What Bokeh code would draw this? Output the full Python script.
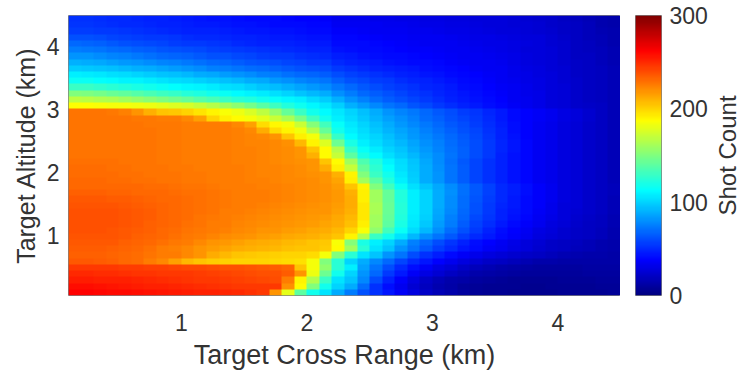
import numpy as np
from bokeh.embed import file_html
from bokeh.layouts import row
from bokeh.models import FixedTicker, LinearColorMapper, Range1d
from bokeh.plotting import figure
from bokeh.resources import INLINE

x_ticks = [1, 2, 3, 4]
y_ticks = [1, 2, 3, 4]
bar_ticks = [0, 100, 200, 300]
x_label = "Target Cross Range (km)"
y_label = "Target Altitude (km)"
bar_label = "Shot Count"

# Shot counts, top row (altitude 4.5 km) first, left column (0.1 km) first
r01 = [52,52,51,50,50,49,48,47,46,45,44,43,43,42,41,41,40,39,38,38,37,33,33,33,32,32,31,31,30,30,29,29,28,27,27,26,25,24,23,21,19,17,15,13]
r02 = [53,53,52,51,50,50,49,48,47,46,45,45,44,43,43,42,41,41,40,39,39,35,35,34,34,33,33,32,31,31,30,30,29,28,27,26,26,25,23,22,20,18,15,14]
r03 = [56,56,55,54,53,52,51,50,49,48,47,47,46,45,44,44,43,43,42,41,41,37,37,36,35,35,34,33,33,32,31,31,30,29,28,27,26,25,24,22,20,18,16,15]
r04 = [62,61,60,58,57,56,55,54,53,51,50,50,49,48,47,46,45,45,44,43,43,39,39,38,37,36,36,35,34,34,33,32,31,31,30,29,28,27,25,23,21,18,17,15]
r05 = [68,67,66,64,62,60,59,58,56,55,54,53,52,50,49,48,47,47,46,45,45,41,40,40,39,38,37,36,35,35,34,33,32,31,31,30,29,27,25,24,21,19,17,15]
r06 = [74,73,72,70,68,66,65,63,62,60,59,57,56,55,53,52,51,50,49,48,47,43,42,41,40,39,38,37,37,36,35,34,33,32,31,30,28,27,26,24,21,19,18,16]
r07 = [82,81,79,77,75,73,71,69,67,66,64,62,61,59,58,56,55,54,52,51,50,46,45,43,42,41,40,39,38,37,36,35,34,33,32,31,29,28,26,24,21,20,18,16]
r08 = [90,89,87,85,83,81,79,77,75,73,71,69,67,65,63,62,60,58,57,55,54,50,48,46,45,43,42,41,40,39,37,36,35,34,33,31,29,28,26,24,22,20,18,16]
r09 = [98,97,96,94,92,90,88,86,84,81,79,76,74,72,70,68,66,64,62,60,59,54,52,50,48,46,45,44,42,41,39,38,36,35,34,32,30,29,26,25,22,20,19,17]
r10 = [108,107,106,104,102,100,98,96,94,92,89,87,84,82,79,76,74,71,69,67,65,60,57,54,52,50,48,46,44,43,41,39,38,36,34,32,31,29,27,25,22,21,19,17]
r11 = [116,115,113,112,110,109,107,105,103,101,99,97,94,92,89,87,83,80,77,74,72,66,62,59,56,54,51,49,47,45,43,41,39,37,35,33,31,30,27,25,23,21,19,17]
r12 = [130,129,127,125,122,120,118,116,113,111,109,107,104,102,99,96,93,90,86,83,79,73,68,64,60,57,54,52,49,47,45,42,40,38,36,34,32,30,28,26,23,21,19,17]
r13 = [150,149,147,144,141,138,134,131,128,124,121,118,115,112,110,107,104,100,96,92,88,80,74,69,65,61,58,55,52,49,46,44,42,39,37,34,32,31,28,26,23,21,19,17]
r14 = [168,167,165,163,160,157,153,149,146,142,138,134,129,125,122,118,114,111,108,103,98,90,82,75,70,65,61,58,54,51,48,45,43,40,38,35,33,31,28,26,23,21,19,17]
r15 = [187,187,186,185,184,183,182,180,178,175,171,166,160,154,147,139,131,123,117,111,106,99,90,84,78,72,68,63,59,55,51,48,45,42,39,36,33,31,28,26,23,22,20,17]
r16 = [228,228,228,227,224,218,210,205,203,200,195,190,186,182,176,168,156,142,130,118,112,106,100,94,88,82,77,73,68,64,60,56,53,49,45,41,38,36,33,30,27,24,20,17]
r17 = [228,228,228,228,228,227,227,226,225,222,215,200,192,188,185,180,172,162,148,132,118,108,103,97,91,85,80,75,70,66,62,58,55,50,45,41,38,36,33,30,27,24,20,17]
r18 = [228,228,228,228,228,228,227,227,227,226,226,225,225,222,215,198,189,184,172,152,132,114,106,100,94,88,83,78,73,69,64,60,56,51,46,42,38,35,32,29,26,23,20,17]
r19 = [228,228,228,228,228,228,228,227,227,226,226,225,225,224,222,212,198,190,183,166,142,118,108,102,97,91,86,81,76,71,66,62,58,52,47,42,38,35,32,29,26,23,20,17]
r20 = [228,228,228,228,228,228,228,227,227,226,226,225,225,224,223,222,218,204,192,184,158,128,112,105,100,94,89,83,78,73,68,64,59,53,48,43,38,35,32,29,26,23,20,17]
r21 = [228,228,228,228,228,228,228,227,227,226,226,225,225,224,223,223,222,220,208,190,178,145,120,108,103,97,92,86,80,75,70,65,60,54,49,44,39,35,32,29,26,23,20,17]
r22 = [228,228,228,228,228,228,228,227,227,226,226,225,225,224,224,223,222,221,218,205,188,165,130,114,107,100,95,89,83,77,71,66,60,54,49,44,39,35,32,29,26,23,20,17]
r23 = [228,228,228,228,228,228,228,227,227,226,226,225,225,224,224,223,222,221,219,210,188,170,140,120,112,104,98,92,85,79,72,66,60,54,48,43,39,35,32,29,26,23,20,17]
r24 = [229,229,229,229,228,228,228,227,227,226,226,225,225,224,224,223,222,221,220,218,205,188,160,135,122,110,102,96,87,79,71,64,58,52,47,43,39,35,32,29,26,23,20,17]
r25 = [230,230,230,229,229,228,228,228,227,227,226,226,225,225,224,223,223,222,221,219,212,192,170,142,126,113,104,97,88,80,72,65,58,52,47,43,39,35,32,29,26,23,20,17]
r26 = [230,230,230,230,229,229,228,228,228,227,227,226,225,225,224,223,223,222,221,220,218,210,190,150,130,118,106,98,89,81,72,65,58,52,47,43,39,35,32,29,26,23,20,17]
r27 = [231,231,231,230,230,229,229,228,228,227,227,226,225,225,224,224,223,222,222,221,219,214,192,160,140,122,108,99,89,81,72,65,58,52,47,43,39,35,32,29,26,23,20,17]
r28 = [232,232,232,232,231,231,230,230,229,228,228,227,226,226,225,224,224,223,222,221,220,216,205,190,150,132,116,104,96,87,79,71,64,57,50,46,42,37,33,29,26,23,21,18]
r29 = [234,234,234,233,233,232,232,231,230,229,229,228,227,226,225,225,224,223,222,221,220,217,210,192,160,142,123,108,100,88,80,71,64,57,50,46,42,37,33,29,26,23,21,18]
r30 = [236,236,236,235,235,234,233,232,231,230,229,228,227,226,226,225,224,223,222,221,220,217,212,192,160,142,123,108,100,88,79,70,63,56,50,45,41,37,33,29,26,23,20,17]
r31 = [237,237,237,237,236,235,234,233,231,230,229,228,227,226,225,224,223,222,221,220,219,216,212,194,162,143,124,108,100,88,79,70,62,55,49,45,41,37,32,28,26,23,20,17]
r32 = [238,238,238,238,237,236,235,233,232,230,229,228,226,225,224,223,222,221,220,219,218,215,210,194,162,143,124,108,100,87,78,69,61,54,48,44,40,36,32,28,25,23,20,17]
r33 = [238,238,238,238,237,236,235,233,232,230,228,227,226,224,223,222,221,220,218,217,216,213,208,194,160,142,122,107,99,86,76,67,59,53,47,43,39,35,31,27,24,22,19,16]
r34 = [238,238,238,238,237,236,234,233,231,229,228,226,225,223,222,221,220,218,217,216,214,211,206,192,160,140,120,106,97,84,74,65,57,51,45,41,37,33,29,26,23,21,19,16]
r35 = [238,238,238,237,236,235,234,232,230,228,227,225,224,222,221,219,218,216,215,213,211,208,200,186,155,132,116,102,92,80,70,62,54,48,42,38,34,30,27,24,22,20,18,15]
r36 = [237,237,237,237,236,234,233,231,229,227,225,223,221,220,218,216,215,213,212,210,208,204,190,165,130,118,105,92,80,72,64,56,50,45,41,37,33,29,26,24,22,20,18,15]
r37 = [236,236,236,236,234,233,231,229,227,225,222,219,217,215,213,212,210,208,207,205,203,186,152,120,108,100,88,76,68,60,53,47,42,38,35,31,28,25,22,20,19,17,15,14]
r38 = [235,235,235,234,233,231,229,226,224,222,219,216,214,212,210,209,208,206,205,204,202,188,160,125,105,95,82,72,64,56,50,44,40,36,33,30,27,24,22,20,18,17,15,13]
r39 = [234,234,234,233,232,230,228,226,225,222,218,212,208,205,203,202,201,200,200,198,185,150,125,105,95,82,72,60,52,46,40,36,32,29,26,24,22,20,18,16,15,14,13,12]
r40 = [236,236,235,234,232,230,226,222,215,208,204,202,201,200,200,200,199,198,196,185,150,125,100,88,78,68,58,50,44,38,33,29,25,22,20,18,16,14,13,12,12,12,12,12]
r41 = [246,246,245,245,244,244,243,243,242,241,241,240,239,238,237,236,235,233,205,185,155,125,108,85,72,60,50,42,36,30,26,22,18,16,14,12,11,10,10,10,10,11,11,11]
r42 = [250,250,249,249,248,247,247,246,246,245,244,243,242,241,240,239,238,235,218,182,145,118,100,82,68,55,45,36,30,25,21,17,14,12,11,10,9,9,9,9,9,10,10,10]
r43 = [254,254,253,252,252,251,250,249,248,247,246,245,244,243,242,241,240,225,190,165,130,105,95,78,60,47,37,29,22,17,14,12,10,9,8,7,7,7,7,8,8,8,9,9]
r44 = [258,258,257,256,255,254,253,252,251,250,249,248,247,246,246,246,245,220,188,150,118,100,88,70,52,42,33,25,19,15,12,9,8,7,6,6,5,5,6,6,7,7,8,8]
r45 = [262,262,261,260,259,258,257,256,255,254,253,252,251,250,248,245,218,180,140,118,105,88,74,62,52,44,36,29,22,17,13,10,8,7,6,5,5,5,5,6,6,7,7,8]

rows_top_down = [r01,r02,r03,r04,r05,r06,r07,r08,r09,r10,r11,r12,r13,r14,r15,
                 r16,r17,r18,r19,r20,r21,r22,r23,r24,r25,r26,r27,r28,r29,r30,
                 r31,r32,r33,r34,r35,r36,r37,r38,r39,r40,r41,r42,r43,r44,r45]
grid = np.array(rows_top_down[::-1], dtype=float)


def jet(n=256):
    out = []
    for i in range(n):
        t = i / (n - 1)
        r = np.clip(min(4 * t - 1.5, -4 * t + 4.5), 0, 1)
        g = np.clip(min(4 * t - 0.5, -4 * t + 3.5), 0, 1)
        b = np.clip(min(4 * t + 0.5, -4 * t + 2.5), 0, 1)
        out.append("#%02x%02x%02x" % (int(r * 255), int(g * 255), int(b * 255)))
    return out


mapper = LinearColorMapper(palette=jet(), low=0, high=300)
FONT = "Liberation Sans"
INK = "#333333"
EDGE = "#808080"
TICK = "23px"
H = 372


def style(axis, ticks, label, size):
    axis.ticker = FixedTicker(ticks=ticks)
    axis.axis_label = label
    axis.axis_label_text_font = FONT
    axis.axis_label_text_font_size = size
    axis.axis_label_text_font_style = "normal"
    axis.axis_label_text_color = INK
    axis.major_label_text_font = FONT
    axis.major_label_text_font_size = TICK
    axis.major_label_text_color = INK
    axis.major_tick_out = 0
    axis.major_tick_in = 0
    axis.minor_tick_out = 0
    axis.minor_tick_in = 0
    axis.axis_line_color = None


p = figure(width=620, height=H, output_backend="svg", toolbar_location=None,
           x_range=Range1d(0.1, 4.5), y_range=Range1d(0.05, 4.5),
           min_border_left=68, min_border_right=0, min_border_top=15, min_border_bottom=H - 295)
p.image(image=[grid], x=0.1, y=0.05, dw=4.4, dh=4.45, color_mapper=mapper)
p.grid.visible = False
p.outline_line_color = EDGE
style(p.xaxis[0], x_ticks, x_label, "27px")
style(p.yaxis[0], y_ticks, y_label, "25px")
p.xaxis[0].major_label_standoff = 18
p.xaxis[0].axis_label_standoff = 6
p.yaxis[0].major_label_standoff = 9
p.yaxis[0].axis_label_standoff = 4

bar_values = np.linspace(0, 300, 256).reshape(-1, 1)
c = figure(width=90, height=H, output_backend="svg", toolbar_location=None,
           x_range=Range1d(0, 1), y_range=Range1d(0, 300), y_axis_location="right",
           min_border_left=15, min_border_right=48, min_border_top=15, min_border_bottom=H - 295)
c.image(image=[bar_values], x=0, y=0, dw=1, dh=300, color_mapper=mapper)
c.grid.visible = False
c.xaxis.visible = False
c.outline_line_color = EDGE
style(c.yaxis[0], bar_ticks, None, "21px")
c.yaxis[0].major_label_standoff = 8

d = figure(width=34, height=H, output_backend="svg", toolbar_location=None,
           x_range=Range1d(0, 1), y_range=Range1d(0, 300),
           min_border_left=18, min_border_right=0, min_border_top=15, min_border_bottom=H - 295)
d.grid.visible = False
d.xaxis.visible = False
d.outline_line_color = None
style(d.yaxis[0], [], bar_label, "24px")
d.yaxis[0].major_label_standoff = 0
d.yaxis[0].axis_label_standoff = 0

layout = row(p, c, d, spacing=0)
open("out.html", "w").write(file_html(layout, INLINE))
